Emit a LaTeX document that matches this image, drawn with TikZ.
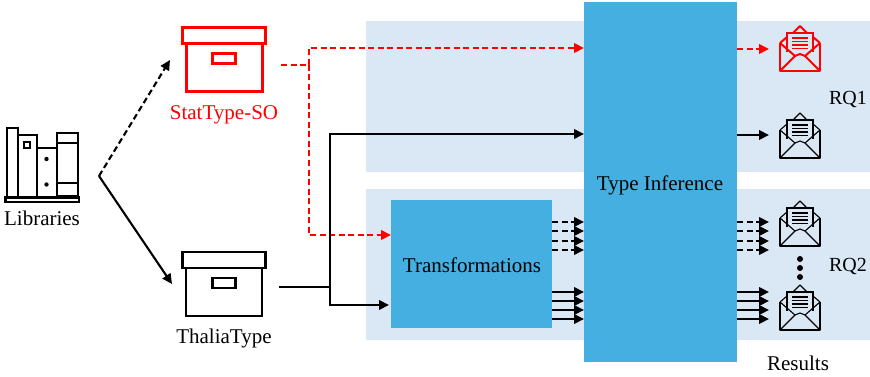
\documentclass[tikz,border=0pt]{standalone}
\usepackage{fontspec}
\setmainfont{Liberation Serif}
\usetikzlibrary{arrows.meta,calc}
\definecolor{regionblue}{HTML}{DAE8F6}
\definecolor{boxblue}{HTML}{46AFE1}
\tikzset{
  x=1pt,y=-1pt,
  region/.style={fill=regionblue,draw=none,inner sep=0pt,outer sep=0pt},
  procbox/.style={fill=boxblue,draw=none,inner sep=0pt,outer sep=0pt},
  lbl/.style={inner sep=0pt,outer sep=0pt,font=\fontsize{21}{24}\selectfont},
  rqlbl/.style={inner sep=0pt,outer sep=0pt,font=\fontsize{20}{24}\selectfont},
  solidarrow/.style={line width=2.1pt,draw=black,-{Triangle[length=10pt,width=9.5pt]}},
  plainline/.style={line width=2.1pt,draw=black,line join=miter},
  dasharrow/.style={line width=2.1pt,draw=black,dash pattern=on 6pt off 3.5pt,-{Triangle[length=10pt,width=9.5pt]}},
  reddash/.style={line width=2.1pt,draw=red,dash pattern=on 6pt off 3.5pt,-{Triangle[length=10pt,width=9.5pt]}},
  reddashline/.style={line width=2.1pt,draw=red,dash pattern=on 6pt off 3.5pt},
  pics/storebox/.style={code={
    \draw (-41.5,-24) rectangle (41.5,-8);
    \draw (-38,-8) rectangle (38,40);
    \draw (-11.5,2) rectangle (11.5,12);
  }},
  pics/envelope/.style={code={
    \draw[line join=round] (-20,17) -- (-20,45) -- (20,45) -- (20,17);
    \draw (-20,17) -- (-13,11);
    \draw (20,17) -- (13,11);
    \draw[line join=round] (-7,7) -- (0,0) -- (7,7);
    \draw (-13,26) -- (-13,7) -- (13,7) -- (13,26);
    \draw[line join=round] (-20,17) -- (-5,30) -- (0,28) -- (5,30) -- (20,17);
    \draw[line join=round] (-20,45) -- (-5,30);
    \draw[line join=round] (20,45) -- (5,30);
    \foreach \ly in {12,15.5,19,22.5}{\draw[line width=#1] (-8,\ly) -- (8,\ly);}
  }},
}
\begin{document}
\begin{tikzpicture}
\useasboundingbox (0,0) rectangle (870,377);
% regions
\node[region,anchor=north west,minimum width=504pt,minimum height=151pt] (rq1) at (366,21) {};
\node[region,anchor=north west,minimum width=504pt,minimum height=151pt] (rq2) at (366,189) {};
% process boxes
\node[procbox,anchor=north west,minimum width=153pt,minimum height=360pt] (infer) at (584,2) {};
\node[lbl] (inferlabel) at (660,185.5) {Type Inference};
\node[procbox,anchor=north west,minimum width=161pt,minimum height=128pt] (trans) at (391,200) {};
\node[lbl] (translabel) at (472,265) {Transformations};
% store boxes
\coordinate (statbox) at (224,52);
\coordinate (thaliabox) at (224,276);
\pic[draw=red,line width=3pt] at (statbox) {storebox};
\pic[draw=black,line width=2.4pt] at (thaliabox) {storebox};
\node[lbl,text=red] (statlabel) at (224,115) {StatType-SO};
\node[lbl] (thalialabel) at (224,338) {ThaliaType};
% libraries
\draw[line width=2.4pt] (5.5,197.500) rectangle (79,202);
\draw[line width=2pt] (6.5,196) -- (6.5,128.5) -- (18,128.5) -- (18,196);
\draw[line width=2pt] (18,135.5) -- (36.5,135.5) -- (36.5,196);
\draw[line width=2pt] (24,142) rectangle (30,148);
\draw[line width=2pt] (36.5,148) -- (56.5,148) -- (56.5,196);
\fill (46.5,159) circle (2.2pt);
\fill (46.5,184.500) circle (2.2pt);
\draw[line width=2pt] (56.5,133) rectangle (78,196);
\draw[line width=2pt] (56.5,143) -- (78,143);
\draw[line width=2pt] (56.5,183) -- (78,183);
\node[lbl] (libs) at (42,218) {Libraries};
% fork from libraries
\coordinate (fork) at (99,176);
\coordinate (statin) at (170,60);
\coordinate (thaliain) at (172,284);
\draw[dasharrow] (fork) -- (statin);
\draw[solidarrow] (fork) -- (thaliain);
% red route
\coordinate (redstart) at (281,65);
\coordinate (redv) at (309,65);
\draw[reddashline] (redstart) -- (redv);
\draw[reddash] (redv) -- (309,48) -- (infer.west |- 0,48);
\draw[reddash] (redv) -- (309,235) -- (trans.west |- 0,235);
% black route
\coordinate (blackstart) at (279,287);
\coordinate (blackv) at (330,287);
\draw[plainline] (blackstart) -- (blackv);
\draw[solidarrow] (blackv) -- (330,134) -- (infer.west |- 0,134);
\draw[solidarrow] (blackv) -- (330,305) -- (389,305);
% fan arrows between boxes
\foreach \y in {222,231,241,250}{
  \draw[dasharrow] (trans.east |- 0,\y) -- (infer.west |- 0,\y);
  \draw[dasharrow] (infer.east |- 0,\y) -- (769,\y);
}
\foreach \y in {292,301,310,319}{
  \draw[solidarrow] (trans.east |- 0,\y) -- (infer.west |- 0,\y);
  \draw[solidarrow] (infer.east |- 0,\y) -- (769,\y);
}
\draw[reddash] (infer.east |- 0,49) -- (769,49);
\draw[solidarrow] (infer.east |- 0,135) -- (769,135);
% envelopes
\pic[draw=red,line width=2pt] at (800,26) {envelope={1.6pt}};
\pic[draw=black,line width=1.1pt] at (800,113) {envelope={1.2pt}};
\pic[draw=black,line width=1.1pt] at (800,201) {envelope={1.2pt}};
\pic[draw=black,line width=1.1pt] at (800,285) {envelope={1.8pt}};
\fill (800,259) circle (3pt);
\fill (800,268) circle (3pt);
\fill (800,277) circle (3pt);
% labels
\node[rqlbl] (rqa) at (848,100) {RQ1};
\node[rqlbl] (rqb) at (848,266) {RQ2};
\node[lbl] (results) at (798,363) {Results};
\end{tikzpicture}
\end{document}
